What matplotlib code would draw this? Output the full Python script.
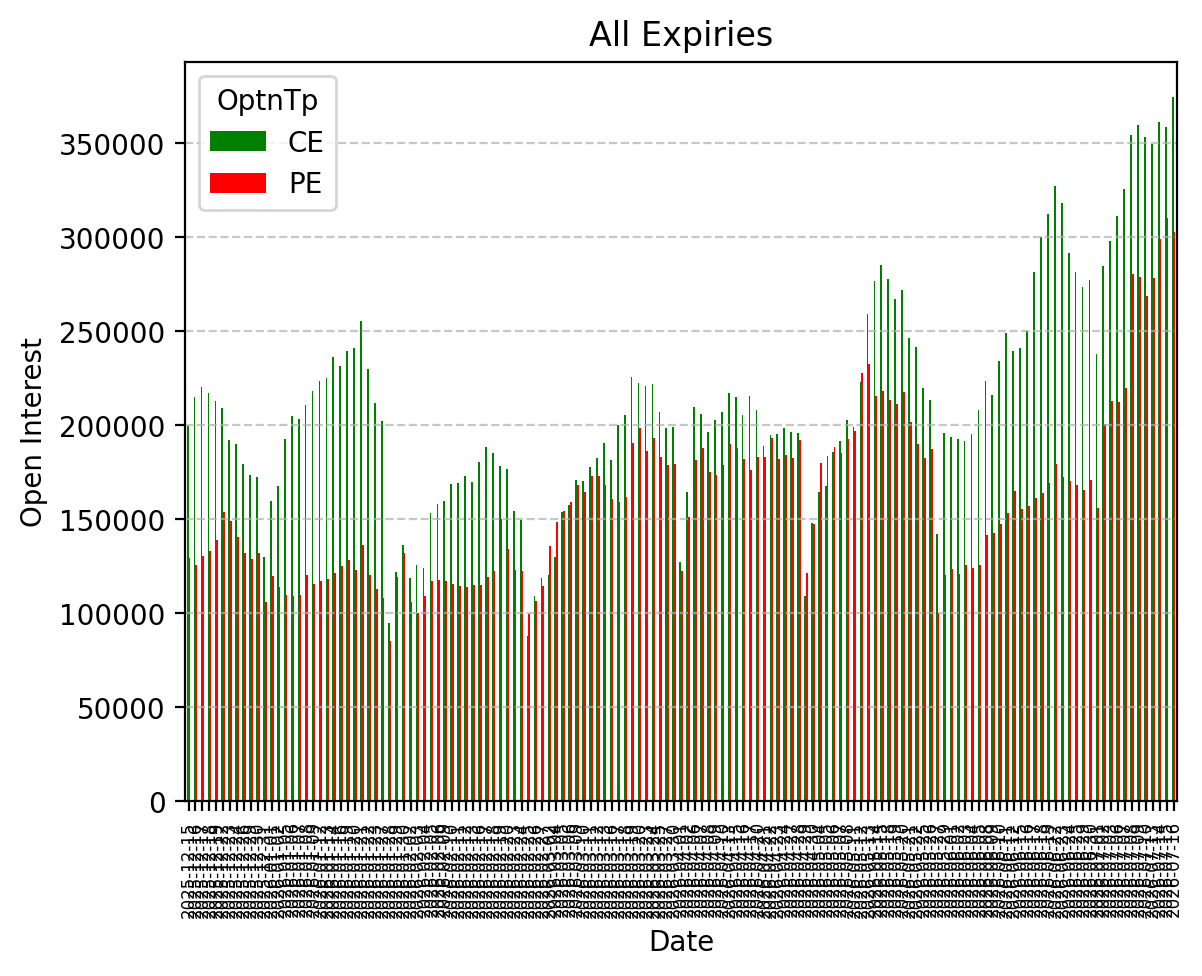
import matplotlib
matplotlib.use("Agg")
import matplotlib.pyplot as plt
import pandas as pd

# Trading dates (business days minus exchange holidays)
start_date = "2025-12-15"
end_date = "2026-07-16"
holidays = ["2025-12-25", "2026-01-15", "2026-01-26", "2026-03-03", "2026-03-26",
            "2026-03-31", "2026-04-03", "2026-04-14", "2026-05-01", "2026-05-28",
            "2026-06-26"]
dates = [d.strftime("%Y-%m-%d") for d in pd.bdate_range(start_date, end_date)
         if d.strftime("%Y-%m-%d") not in holidays]

ce_oi = [199500, 214700, 220000, 216800, 212600, 208900, 191800, 189700, 179100, 173200,
         172200, 129600, 159400, 167400, 192400, 204600, 203000, 210500, 217900, 223200,
         224800, 236000, 231200, 239200, 240800, 255300, 229600, 211500, 201900, 94500,
         121600, 136000, 118400, 125400, 123800, 153000, 157800, 159400, 168400, 169000,
         172700, 169500, 180100, 188100, 184900, 178000, 176400, 154100, 149300, 87600,
         108900, 118400, 120000, 129600, 153500, 157300, 170600, 170000, 177500, 182300,
         190200, 181200, 199800, 205100, 225300, 222200, 220600, 221600, 206700, 198200,
         198800, 126900, 164200, 209400, 205700, 196100, 202500, 206700, 216800, 214700,
         205100, 215300, 207800, 188700, 194500, 195000, 198200, 196100, 195600, 108900,
         147700, 164200, 167400, 185500, 191300, 202500, 198800, 222700, 258900, 276400,
         284900, 277500, 266800, 271600, 246100, 241300, 219500, 213100, 141900, 195600,
         193400, 192400, 191300, 195000, 207800, 223200, 215800, 233900, 248800, 239200,
         240800, 249800, 281200, 299800, 312100, 327000, 317900, 291300, 281200, 273200,
         277000, 237600, 284400, 297700, 311000, 325400, 354100, 359400, 353000, 349300,
         361000, 358300, 374300]

pe_oi = [129100, 125400, 130100, 132800, 138600, 153500, 148800, 140200, 131700, 128500,
         131700, 105700, 119500, 113600, 109400, 108900, 109400, 120000, 115200, 116800,
         117900, 121100, 124800, 128000, 122700, 136000, 120000, 112600, 107800, 84900,
         119000, 131700, 105700, 99800, 108900, 116800, 117400, 116800, 115200, 114200,
         113600, 114700, 114700, 119000, 122200, 149800, 133900, 122700, 122200, 99300,
         106200, 114200, 135500, 148200, 154100, 158900, 167900, 164200, 172700, 172700,
         167900, 160500, 158900, 161500, 190200, 198200, 186000, 192900, 182800, 178500,
         179100, 122200, 150900, 181200, 187600, 174800, 173200, 178600, 189700, 187600,
         181700, 175900, 182800, 182800, 192900, 181700, 183900, 182300, 191800, 121100,
         147200, 179600, 183300, 188100, 184900, 192400, 196600, 227500, 232300, 215300,
         217900, 213100, 211000, 217400, 201400, 189700, 182300, 187100, 99800, 120000,
         123200, 120600, 125400, 123800, 125400, 141300, 142400, 147200, 153000, 164700,
         155100, 156700, 161000, 163700, 169000, 179100, 172200, 170000, 167900, 165300,
         170600, 155700, 200400, 212600, 212100, 219500, 280100, 278500, 268400, 278000,
         298800, 309900, 302500]

df = pd.DataFrame({"CE": ce_oi, "PE": pe_oi}, index=pd.Index(dates, name="Date"))
df.columns.name = "OptnTp"

fig, ax = plt.subplots(figsize=(6.4, 4.8), dpi=200)
df.plot(kind="bar", ax=ax, color=["green", "red"])
ax.set_title("All Expiries")
ax.set_xlabel("Date")
ax.set_ylabel("Open Interest")
ax.grid(axis="y", linestyle="--", alpha=0.7)
ax.tick_params(axis="x", labelsize=6)
ax.legend(title="OptnTp", loc="upper left")
fig.savefig("out.png", dpi=200, bbox_inches="tight")
